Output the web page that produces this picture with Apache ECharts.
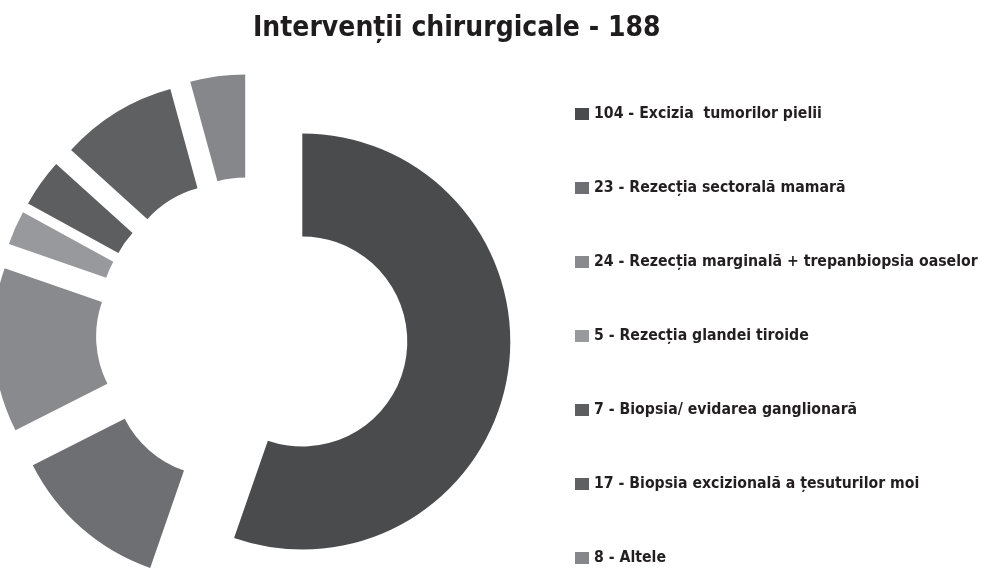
<!DOCTYPE html>
<html>
<head>
<meta charset="utf-8">
<script src="https://cdn.jsdelivr.net/npm/echarts@6/dist/echarts.min.js"></script>
<style>
  html, body { margin: 0; padding: 0; background: #ffffff; }
  #chart { width: 981px; height: 568px; }
</style>
</head>
<body>
<div id="chart"></div>
<script>
const titleText = 'Intervenții chirurgicale - 188';
const categories = [
  '104 - Excizia  tumorilor pielii',
  '23 - Rezecția sectorală mamară',
  '24 - Rezecția marginală + trepanbiopsia oaselor',
  '5 - Rezecția glandei tiroide',
  '7 - Biopsia/ evidarea ganglionară',
  '17 - Biopsia excizională a țesuturilor moi',
  '8 - Altele'
];
const values = [104, 23, 24, 5, 7, 17, 8];
const colors = ['#4a4b4d', '#6e6f72', '#898a8d', '#98999c', '#5d5e60', '#5f6062', '#86878a'];

const FONT = '"DejaVu Sans Condensed", "Liberation Sans Narrow", sans-serif';

const chart = echarts.init(document.getElementById('chart'), null, { renderer: 'canvas' });
chart.setOption({
  animation: false,
  backgroundColor: '#ffffff',
  title: {
    text: titleText,
    left: 253,
    top: 15,
    padding: 0,
    textStyle: { fontFamily: FONT, fontWeight: 'bold', fontSize: 28, color: '#1e1c1d' }
  },
  legend: {
    orient: 'vertical',
    left: 575,
    top: 104,
    height: 520,
    padding: 0,
    icon: 'rect',
    itemWidth: 14,
    itemHeight: 12,
    itemGap: 54,
    selectedMode: false,
    data: categories,
    textStyle: { fontFamily: FONT, fontWeight: 'bold', fontSize: 15.7, lineHeight: 20, color: '#231f20' }
  },
  series: [{
    type: 'pie',
    center: [252, 333],
    radius: [105, 208],
    startAngle: 90,
    clockwise: true,
    selectedMode: 'multiple',
    selectedOffset: 51,
    label: { show: false },
    labelLine: { show: false },
    emphasis: { disabled: true },
    itemStyle: { borderWidth: 0 },
    select: { itemStyle: { borderWidth: 0 } },
    data: categories.map((name, i) => ({
      name: name,
      value: values[i],
      selected: true,
      itemStyle: { color: colors[i] },
      select: { itemStyle: { color: colors[i], borderWidth: 0 } }
    }))
  }]
});
</script>
</body>
</html>
